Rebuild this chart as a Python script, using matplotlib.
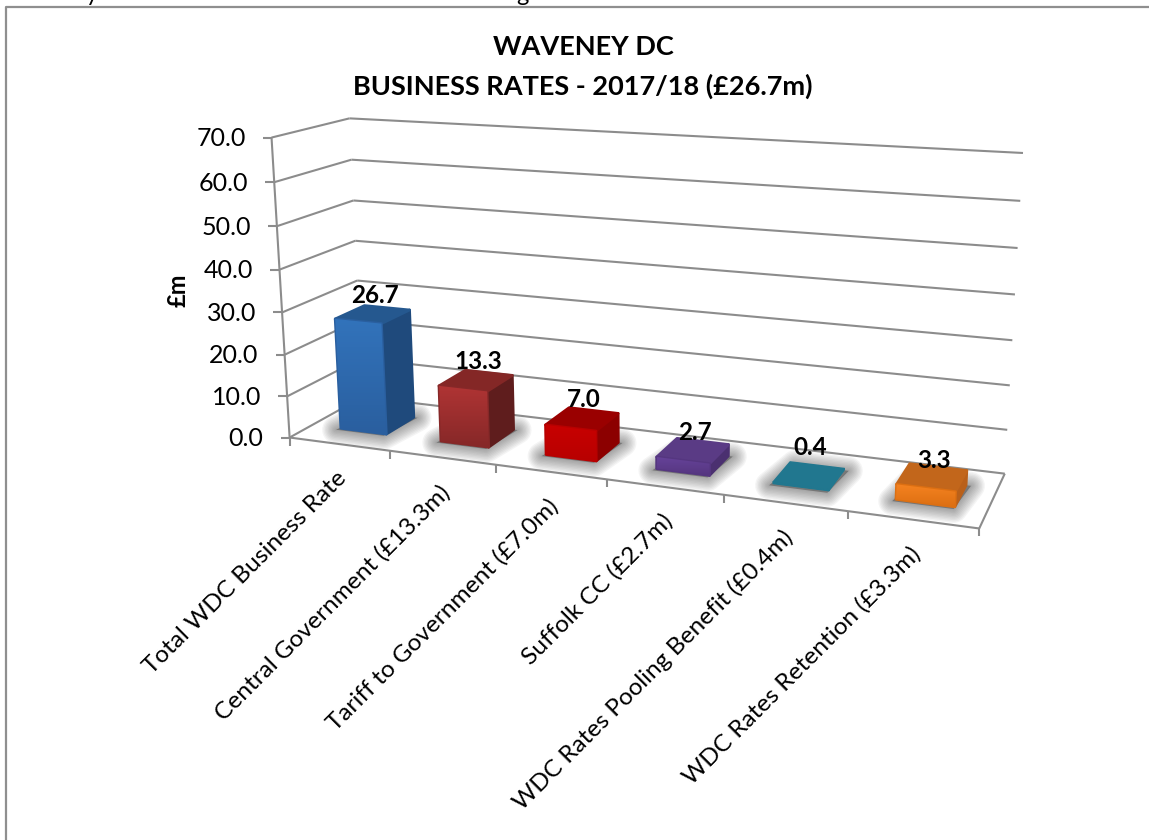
import numpy as np
import matplotlib
matplotlib.use('Agg')
import matplotlib.pyplot as plt
from matplotlib.patches import Polygon

categories = ['Total WDC Business Rate', 'Central Government (£13.3m)', 'Tariff to Government (£7.0m)',
              'Suffolk CC (£2.7m)', 'WDC Rates Pooling Benefit (£0.4m)', 'WDC Rates Retention (£3.3m)']
values = [26.7, 13.3, 7.0, 2.7, 0.4, 3.3]
y_ticks = [0, 10, 20, 30, 40, 50, 60, 70]
y_labels = ['0.0', '10.0', '20.0', '30.0', '40.0', '50.0', '60.0', '70.0']
front_cols = [('#3273bb', '#2a5f9f'), ('#b03434', '#862828'), ('#c80000', '#b80000'),
              ('#67439a', '#553680'), ('#21778f', '#21778f'), ('#f58220', '#dc6f12')]
side_cols = ['#1f4a7c', '#5f1d1d', '#8c0000', '#4b3070', '#21778f', '#b9601a']
top_cols = ['#25588f', '#842726', '#9a0000', '#5a3b85', '#21778f', '#c2661b']
label_nudge = [0, 0, 0, 1, -8, 2]

# camera: box corners (category, value, depth) -> pixel
cal_in = [(0, 0, 0), (0, 70, 0), (0, 0, 1), (0, 70, 1), (6, 0, 1), (6, 70, 1), (6, 0, 0),
          (1, 0, 0), (2, 0, 0), (4, 0, 0), (5, 0, 0)]
cal_out = [(290, 437), (272, 137), (363, 397), (349, 118), (1005, 473), (1023, 154), (981, 527),
           (390, 452), (496, 465), (723, 495), (847, 512)]


def fit_camera(src, dst):
    rows = []
    for (u, v, w), (x, y) in zip(src, dst):
        rows.append([u, v, w, 1, 0, 0, 0, 0, -x*u, -x*v, -x*w, -x])
        rows.append([0, 0, 0, 0, u, v, w, 1, -y*u, -y*v, -y*w, -y])
    return np.linalg.svd(np.array(rows, float))[2][-1].reshape(3, 4)


P = fit_camera(cal_in, cal_out)


def pr(u, v, w):
    q = P @ np.array([u, v, w, 1.0])
    return q[0] / q[2], q[1] / q[2]


plt.rcParams['font.family'] = ['Lato', 'DejaVu Sans']
fig = plt.figure(figsize=(11.49, 8.40), dpi=100)
ax = fig.add_axes([0, 0, 1, 1])
ax.axis('off')
grey = '#8c8c8c'


def line(a, b, lw=1.5, c=grey, z=2):
    ax.plot([a[0], b[0]], [a[1], b[1]], color=c, lw=lw, zorder=z, solid_capstyle='butt')


# frame and the cropped line of text above it
ax.plot([6, 6, 1149], [840, 7, 7], color='#8f8f8f', lw=1.6, zorder=1)
ax.text(92, 1, 'y', fontsize=17, ha='center', va='baseline')
ax.text(522, 1, 'g', fontsize=17, ha='center', va='baseline')

# walls, floor
for t, lab in zip(y_ticks, y_labels):
    a, b, c = pr(0, t, 0), pr(0, t, 1), pr(6, t, 1)
    line(a, b)
    line(b, c)
    line((a[0] - 9, a[1]), a)
    ax.text(a[0] - 26, a[1] + 1, lab, fontsize=18, ha='right', va='center')
line(pr(0, 0, 0), pr(0, 70, 0))
line(pr(0, 0, 0), pr(6, 0, 0))
line(pr(6, 0, 0), pr(6, 0, 1))
for i in range(7):
    a = pr(i, 0, 0)
    line(a, (a[0], a[1] + 8))

w0, w1 = 0.30, 0.70
for i, val in enumerate(values):
    u0, u1 = i + 0.5 - 0.21, i + 0.5 + 0.25
    # soft shadow on the floor
    base = [pr(u0 - .02, 0, w0 - .04), pr(u1, 0, w0 - .04), pr(u1 + .04, 0, w1), pr(u0 + .04, 0, w1)]
    for lw in range(20, 0, -2):
        ax.add_patch(Polygon(base, closed=True, fc='none', ec=(0.2, 0.2, 0.2, 0.05), lw=lw,
                             joinstyle='round', zorder=3))
    ax.add_patch(Polygon(base, closed=True, fc=(0.3, 0.3, 0.3, 0.55), ec='none', zorder=3))

    lw = 2.0 if val > 1 else 1.0
    front = [pr(u0, 0, w0), pr(u1, 0, w0), pr(u1, val, w0), pr(u0, val, w0)]
    side = [pr(u1, 0, w0), pr(u1, 0, w1), pr(u1, val, w1), pr(u1, val, w0)]
    top = [pr(u0, val, w0), pr(u1, val, w0), pr(u1, val, w1), pr(u0, val, w1)]
    ax.add_patch(Polygon(side, closed=True, fc=side_cols[i], ec=side_cols[i], lw=lw,
                         joinstyle='round', zorder=4))
    ax.add_patch(Polygon(top, closed=True, fc=top_cols[i], ec=top_cols[i], lw=lw,
                         joinstyle='round', zorder=4))
    poly = Polygon(front, closed=True, fc=front_cols[i][0], ec=front_cols[i][1], lw=lw,
                   joinstyle='round', zorder=5)
    ax.add_patch(poly)
    xs, ys = zip(*front)
    cmap = matplotlib.colors.LinearSegmentedColormap.from_list('f', list(front_cols[i]))
    im = ax.imshow(np.linspace(0, 1, 64).reshape(-1, 1), cmap=cmap, aspect='auto', zorder=5.5,
                   extent=(min(xs), max(xs), max(ys), min(ys)))
    im.set_clip_path(poly)

    lx, ly = pr(i + 0.5, val, 0.5)
    ax.text(lx + 4, ly - 19 + label_nudge[i], f'{val:.1f}', fontsize=17.5, fontweight='bold',
            ha='center', va='center', zorder=8)

    tx, ty = pr(i + 0.5, 0, 0)
    ax.text(tx + 4, ty + 31, categories[i], fontsize=17.6, rotation=45, rotation_mode='anchor',
            ha='right', va='center', zorder=8)

ax.text(178, 290, '£m', fontsize=17, fontweight='bold', rotation=90, ha='center', va='center')
ax.text(583, 47, 'WAVENEY DC', fontsize=19.5, fontweight='bold', ha='center', va='center')
ax.text(583, 86, 'BUSINESS RATES - 2017/18 (£26.7m)', fontsize=19.5, fontweight='bold', ha='center', va='center')

ax.set_xlim(0, 1149)
ax.set_ylim(840, 0)
fig.savefig('out.png', dpi=100)
